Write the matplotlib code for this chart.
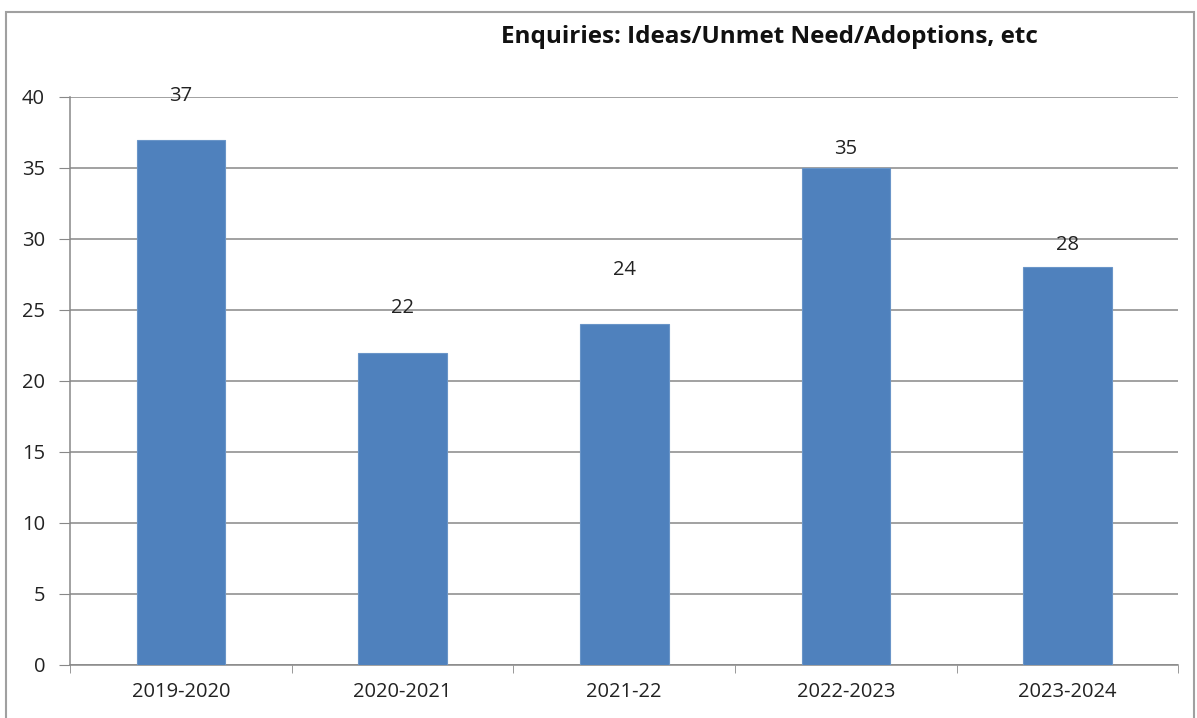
import numpy as np
import matplotlib
matplotlib.use('Agg')
import matplotlib.pyplot as plt
from matplotlib.patches import Rectangle

periodos = ['2019-2020', '2020-2021', '2021-22', '2022-2023', '2023-2024']
enquiries = [37, 22, 24, 35, 28]
# deslocamento dos rótulos acima das barras (como no original)
label_offsets = [3.1, 3.1, 3.8, 1.3, 1.6]

plt.rcParams['font.family'] = ['Open Sans', 'DejaVu Sans']

fig = plt.figure(figsize=(11.97, 7.18), dpi=100)
ax = fig.add_axes([0.0585, 0.074, 0.926, 0.791])

x = np.arange(len(periodos))
ax.bar(x, enquiries, width=0.4, color='#4F81BD', edgecolor='#6A95C8', linewidth=0.8, zorder=3)

for xi, v, off in zip(x, enquiries, label_offsets):
    ax.text(xi, v + off, str(v), ha='center', va='center', fontsize=14.5, color='#222222', zorder=4)

ax.set_xlim(-0.5, len(periodos) - 0.5)
ax.set_ylim(0, 40)
ax.set_yticks(range(0, 41, 5))
ax.set_xticks(x)
ax.set_xticklabels(periodos)
ax.set_xticks(np.arange(-0.5, len(periodos)), minor=True)
ax.tick_params(axis='x', which='major', length=0, pad=12, labelsize=14.5, labelcolor='#222222')
ax.tick_params(axis='x', which='minor', length=6, color='#888888', direction='out')
ax.tick_params(axis='y', length=8, color='#888888', pad=10, labelsize=14.5, labelcolor='#222222')

ax.yaxis.grid(True, color='#888888', linewidth=1.1, zorder=0)
for s in ['top', 'right']:
    ax.spines[s].set_visible(False)
for s in ['left', 'bottom']:
    ax.spines[s].set_color('#888888')
    ax.spines[s].set_linewidth(1.1)

fig.text(0.643, 0.949, 'Enquiries: Ideas/Unmet Need/Adoptions, etc', ha='center', va='center',
         fontsize=17.5, fontweight='bold', color='#111111')

fig.patches.append(Rectangle((6 / 1197, -0.05), 1188 / 1197, 0.05 + (718 - 12) / 718,
                             transform=fig.transFigure, fill=False, edgecolor='#A0A0A0', linewidth=1.5))

plt.savefig('out.png', dpi=100)
